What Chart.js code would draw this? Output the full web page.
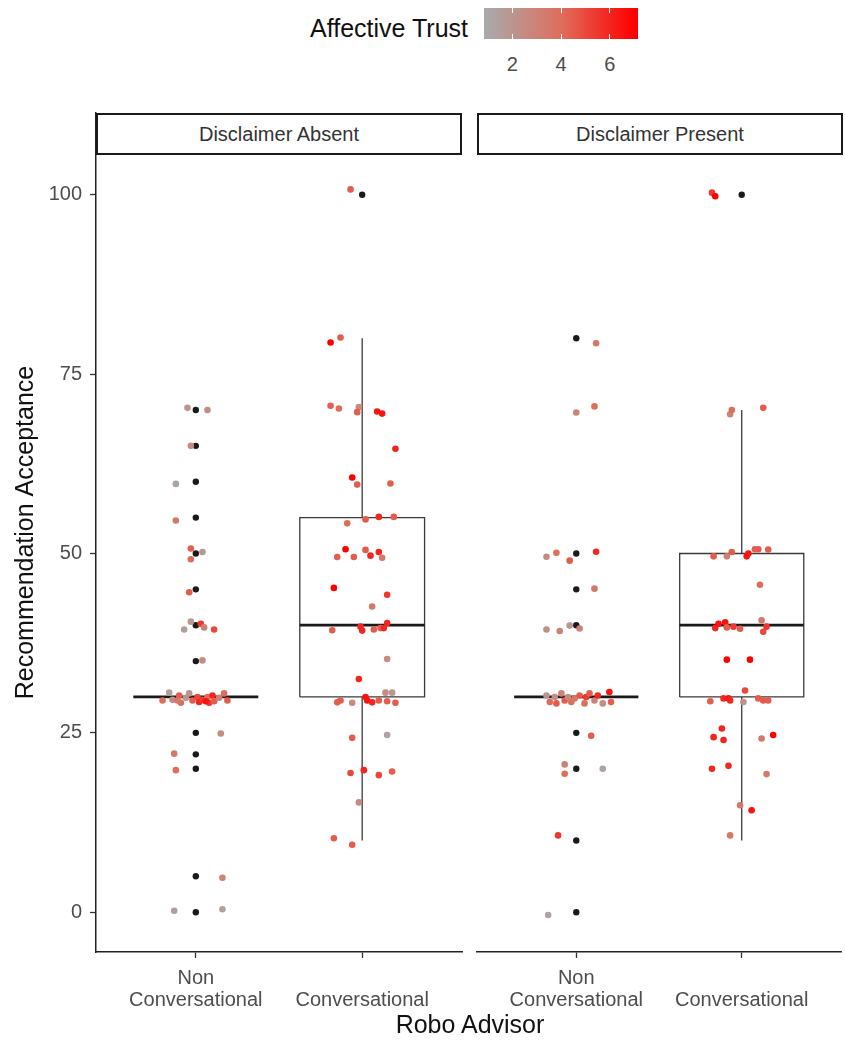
<!DOCTYPE html>
<html>
<head>
<meta charset="utf-8">
<script src="https://cdn.jsdelivr.net/npm/chart.js@4.4.1/dist/chart.umd.min.js"></script>
<style>
  body { margin: 0; background: #fff; font-family: "Liberation Sans", Arial, sans-serif; }
  #wrap { position: relative; width: 845px; height: 1044px; overflow: hidden; }
  canvas { position: absolute; }
  .strip { position: absolute; top: 113px; height: 42px; box-sizing: border-box; border: 2px solid #1a1a1a;
           background: #fff; text-align: center; line-height: 38px; font-size: 20px; color: #333; z-index: 2; }
  .txt { position: absolute; white-space: nowrap; }
</style>
</head>
<body>
<div id="wrap">
  <div class="txt" id="legendTitle" style="right:377px; top:13px; font-size:25px; line-height:30px; color:#111;">Affective Trust</div>
  <div id="colorbar" style="position:absolute; left:484px; top:8px; width:154px; height:31px;"></div>
  <canvas id="left" width="470" height="907" style="left:0; top:108px;"></canvas>
  <canvas id="right" width="375" height="907" style="left:470px; top:108px;"></canvas>
  <div class="strip" id="strip0" style="left:96px; width:366px;"></div>
  <div class="strip" id="strip1" style="left:477px; width:366px;"></div>
  <div class="txt" style="left:0; width:940px; text-align:center; top:1009px; font-size:25px; line-height:30px; color:#111;">Robo Advisor</div>
</div>
<script>
// facets and categories
const facets = ['Disclaimer Absent', 'Disclaimer Present'];
const advisorLabels = [['Non', 'Conversational'], ['', 'Conversational']];
const yTicks = [0, 25, 50, 75, 100];
const trustTicks = [2, 4, 6];
const trustRange = [1, 7];

// boxplot stats: [lower whisker, q1, median, q3, upper whisker] for Non / Conversational
const boxAbsent = [[30, 30, 30, 30, 30], [10, 30, 40, 55, 80]];
const boxPresent = [[30, 30, 30, 30, 30], [10, 30, 40, 50, 70]];

// boxplot outliers (black)
const outAbsentNon = [70, 65, 60, 55, 50, 45, 40, 35, 25, 22, 20, 5, 0];
const outAbsentConv = [100];
const outPresentNon = [80, 50, 45, 40, 25, 20, 10, 0];
const outPresentConv = [100];

// jittered responses: value, horizontal jitter (category units), affective trust
const absentNonY = [70.3, 70.0, 65.0, 59.7, 54.6, 50.7, 50.2, 49.2, 44.6, 40.5, 39.4, 40.2, 39.7, 39.4, 35.1,
  29.5, 30.6, 29.6, 30.2, 29.2, 29.9, 30.5, 29.5, 30.0, 29.3, 29.6, 30.0, 29.2, 30.2, 29.4, 29.9, 30.5, 29.5, 29.5, 29.4,
  24.9, 22.1, 19.8, 4.8, 0.2, 0.4];
const absentNonDx = [-0.05, 0.07, -0.03, -0.12, -0.12, -0.03, 0.04, -0.03, -0.04, -0.03, -0.07, 0.03, 0.05, 0.11, 0.04,
  -0.20, -0.16, -0.14, -0.10, -0.09, -0.06, -0.04, -0.02, 0.01, 0.02, 0.04, 0.07, 0.08, 0.10, 0.11, 0.14, 0.17, 0.19, -0.11, 0.06,
  0.15, -0.13, -0.12, 0.16, -0.13, 0.16];
const absentNonTrust = [2.0, 2.5, 2.5, 1.3, 3.5, 4.5, 2.0, 4.0, 4.5, 1.8, 1.5, 5.5, 3.0, 5.0, 2.5,
  4.0, 1.5, 2.5, 4.5, 4.0, 2.0, 2.0, 4.5, 5.0, 6.0, 5.5, 4.0, 5.5, 6.0, 4.5, 3.0, 4.0, 4.5, 3.5, 6.5,
  2.5, 3.5, 4.0, 3.0, 1.5, 1.5];

const absentConvY = [100.75, 79.4, 80.1, 70.6, 70.2, 70.4, 69.7, 69.8, 69.5, 64.6,
  60.6, 59.6, 59.75, 54.75, 55.1, 55.1, 54.2, 50.6, 49.5, 49.5,
  50.5, 49.7, 50.2, 49.4, 45.2, 44.25, 42.6, 39.3, 39.8, 39.25,
  39.4, 39.6, 39.6, 40.3, 35.3, 32.5, 29.25, 29.5, 29.2, 30.0,
  29.5, 29.25, 29.5, 30.6, 30.6, 29.4, 29.2, 24.3, 24.7, 19.4,
  19.8, 19.1, 19.6, 15.3, 10.3, 9.4];
const absentConvDx = [-0.07, -0.19, -0.13, -0.19, -0.14, -0.02, -0.03, 0.09, 0.12, 0.20,
  -0.06, -0.03, 0.17, 0.02, 0.10, 0.19, -0.09, -0.10, -0.15, -0.05,
  0.02, 0.05, 0.10, 0.12, -0.17, 0.15, 0.06, -0.18, -0.01, 0.00,
  0.07, 0.11, 0.13, 0.15, 0.15, -0.02, -0.15, -0.13, -0.06, 0.02,
  0.03, 0.06, 0.10, 0.14, 0.18, 0.15, 0.20, -0.06, 0.15, -0.07,
  0.01, 0.10, 0.18, -0.02, -0.17, -0.06];
const absentConvTrust = [4.5, 7, 4.5, 4.5, 4.0, 2.5, 4.5, 6.5, 6.5, 6.0,
  7, 4.5, 4.5, 4.5, 6.0, 4.5, 4.0, 7, 4.5, 4.5,
  4.5, 6.0, 6.0, 3.5, 7, 5.5, 3.5, 4.5, 6.0, 6.0,
  4.5, 4.5, 6.0, 6.0, 2.5, 6.0, 4.5, 4.5, 2.5, 6.5,
  6.5, 6.0, 4.5, 2.5, 2.0, 4.5, 4.5, 4.5, 1.3, 5.0,
  6.0, 5.0, 4.5, 2.5, 4.5, 4.5];

const presentNonY = [79.3, 69.65, 70.5, 49.55, 50.1, 49.0, 50.25, 45.1, 39.4, 39.2, 39.95, 39.55,
  30.2, 29.3, 30.0, 29.1, 30.5, 29.5, 30.0, 29.3, 29.8, 30.2, 29.1, 30.0, 30.5, 29.5, 30.2, 29.1, 30.7, 29.3,
  24.6, 20.6, 19.3, 20.0, 10.7, -0.4];
const presentNonDx = [0.12, 0.00, 0.11, -0.18, -0.12, -0.04, 0.12, 0.11, -0.18, -0.10, -0.04, 0.02,
  -0.18, -0.16, -0.13, -0.12, -0.09, -0.07, -0.05, -0.03, -0.01, 0.02, 0.05, 0.06, 0.08, 0.11, 0.13, 0.16, 0.20, 0.21,
  0.09, -0.07, -0.07, 0.16, -0.11, -0.17];
const presentNonTrust = [3.5, 3.0, 4.0, 2.5, 4.0, 4.5, 6.0, 3.5, 2.5, 3.0, 2.0, 3.0,
  2.0, 4.0, 2.5, 4.5, 3.0, 4.5, 2.5, 4.0, 3.5, 4.5, 4.0, 5.5, 4.5, 3.0, 6.0, 2.5, 6.5, 4.5,
  4.5, 3.0, 4.0, 1.3, 5.5, 1.3];

const presentConvY = [100.3, 99.8, 69.4, 70.0, 70.3, 49.6, 49.6, 50.2, 49.6, 50.0,
  50.6, 50.6, 50.55, 45.65, 39.6, 40.2, 40.4, 39.7, 39.8, 39.5,
  40.7, 39.1, 39.8, 35.2, 35.2, 30.9, 29.4, 29.8, 29.8, 29.5,
  29.3, 29.8, 29.5, 29.5, 25.6, 24.4, 24.0, 24.2, 24.7, 20.0,
  20.4, 19.25, 14.9, 14.2, 10.7];
const presentConvDx = [-0.18, -0.16, -0.07, -0.06, 0.13, -0.17, -0.09, -0.06, 0.03, 0.04,
  0.08, 0.10, 0.16, 0.11, -0.16, -0.14, -0.10, -0.09, -0.05, -0.01,
  0.12, 0.13, 0.15, -0.09, 0.05, 0.02, -0.19, -0.11, -0.08, -0.07,
  0.01, 0.10, 0.13, 0.16, -0.12, -0.17, -0.11, 0.12, 0.19, -0.18,
  -0.08, 0.15, -0.01, 0.06, -0.07];
const presentConvTrust = [5.5, 7, 3.0, 4.0, 4.5, 4.5, 3.0, 4.5, 6.5, 6.5,
  4.5, 4.5, 4.5, 4.0, 6.0, 6.5, 6.5, 4.5, 5.5, 4.5,
  3.5, 5.0, 5.5, 7, 7, 5.0, 4.5, 6.0, 6.5, 6.0,
  2.0, 4.5, 4.5, 4.5, 6.0, 6.0, 6.0, 3.5, 7, 6.0,
  6.0, 3.5, 3.5, 6.5, 3.5];

// colour scale (grey -> red), stops
const trustStops = [[1, [169, 169, 169]], [4, [222, 110, 92]], [7, [255, 0, 0]]];
function trustColor(t) {
  for (let i = 1; i < trustStops.length; i++) {
    const [t0, c0] = trustStops[i - 1], [t1, c1] = trustStops[i];
    if (t <= t1 || i == trustStops.length - 1) {
      const f = Math.min(1, Math.max(0, (t - t0) / (t1 - t0)));
      return 'rgb(' + c0.map((c, k) => Math.round(c + (c1[k] - c) * f)).join(',') + ')';
    }
  }
}

Chart.defaults.font.family = '"Liberation Sans", Arial, sans-serif';

const BOX_HALF = 0.375;
const seg = (pts, width, color, order) => ({
  data: pts, showLine: true, borderColor: color, borderWidth: width,
  pointRadius: 0, fill: false, tension: 0, order: order
});

function facetDatasets(box, groups) {
  const ds = [];
  box.forEach((b, i) => {
    const x = i + 1;
    ds.push(seg([{x: x - BOX_HALF, y: b[1]}, {x: x + BOX_HALF, y: b[1]}, {x: x + BOX_HALF, y: b[3]},
                 {x: x - BOX_HALF, y: b[3]}, {x: x - BOX_HALF, y: b[1]}], 1.3, '#3a3a3a', 4));
    ds.push(seg([{x: x, y: b[0]}, {x: x, y: b[1]}], 1.3, '#3a3a3a', 4));
    ds.push(seg([{x: x, y: b[3]}, {x: x, y: b[4]}], 1.3, '#3a3a3a', 4));
    ds.push(seg([{x: x - BOX_HALF, y: b[2]}, {x: x + BOX_HALF, y: b[2]}], 2.8, '#1a1a1a', 3));
  });
  groups.forEach((g, i) => {
    ds.push({ data: g.out.map(v => ({x: i + 1, y: v})), backgroundColor: '#1a1a1a',
              pointRadius: 3.2, borderWidth: 0, order: 2 });
    ds.push({ data: g.y.map((v, k) => ({x: i + 1 + g.dx[k], y: v})), backgroundColor: g.trust.map(trustColor),
              pointRadius: 3.3, borderWidth: 0, order: 1 });
  });
  return ds;
}

function makeChart(id, datasets, showY, padding) {
  return new Chart(document.getElementById(id), {
    type: 'scatter',
    data: { datasets: datasets },
    options: {
      responsive: false, animation: false, events: [],
      layout: { padding: padding },
      plugins: { legend: { display: false }, tooltip: { enabled: false } },
      scales: {
        x: {
          type: 'linear', min: 0.4, max: 2.6,
          afterBuildTicks: s => { s.ticks = [{value: 1}, {value: 2}]; },
          afterFit: s => { s.height = 63; s.paddingLeft = 0; s.paddingRight = 0; },
          ticks: { callback: (v, i) => advisorLabels[i], font: { size: 20, lineHeight: 1.1 }, color: '#4d4d4d',
                   padding: 9, maxRotation: 0, autoSkip: false },
          grid: { drawOnChartArea: false, tickLength: 6, tickColor: '#333', tickWidth: 1.3 },
          border: { color: '#222', width: 1.5 }
        },
        y: {
          display: showY, min: -5.55, max: 111.4,
          afterBuildTicks: s => { s.ticks = yTicks.map(v => ({value: v})); },
          afterFit: s => { s.width = showY ? 96 : 0; s.paddingTop = 0; s.paddingBottom = 0; },
          ticks: { font: { size: 20 }, color: '#4d4d4d', padding: 8 },
          grid: { drawOnChartArea: false, tickLength: 6, tickColor: '#333', tickWidth: 1.3 },
          border: { color: '#222', width: 1.5 },
          title: { display: true, text: 'Recommendation Acceptance', font: { size: 25 }, color: '#111',
                   padding: { top: 11, bottom: 0 } }
        }
      }
    }
  });
}

makeChart('left', facetDatasets(boxAbsent, [
  { y: absentNonY, dx: absentNonDx, trust: absentNonTrust, out: outAbsentNon },
  { y: absentConvY, dx: absentConvDx, trust: absentConvTrust, out: outAbsentConv }
]), true, { left: 0, right: 8, top: 5, bottom: 0 });

makeChart('right', facetDatasets(boxPresent, [
  { y: presentNonY, dx: presentNonDx, trust: presentNonTrust, out: outPresentNon },
  { y: presentConvY, dx: presentConvDx, trust: presentConvTrust, out: outPresentConv }
]), false, { left: 7, right: 2, top: 5, bottom: 0 });

// strip labels
facets.forEach((f, i) => { document.getElementById('strip' + i).textContent = f; });

// colour bar legend (ticks sit on bin centres of a 20-bin bar)
const bar = document.getElementById('colorbar');
const barW = 154, half = barW / 40;
const pos = v => half + (v - trustRange[0]) / (trustRange[1] - trustRange[0]) * (barW - 2 * half);
const stops = [];
for (let t = trustRange[0]; t <= trustRange[1] + 1e-9; t += 0.5) {
  stops.push(trustColor(t) + ' ' + (pos(t) / barW * 100).toFixed(1) + '%');
}
bar.style.background = 'linear-gradient(to right, ' + stops.join(', ') + ')';
trustTicks.forEach(v => {
  const x = pos(v);
  ['top:0', 'bottom:0'].forEach(side => {
    const m = document.createElement('div');
    m.style.cssText = 'position:absolute;' + side + ';left:' + (x - 0.5) + 'px;width:1px;height:5px;background:#fff;';
    bar.appendChild(m);
  });
  const lab = document.createElement('div');
  lab.className = 'txt';
  lab.textContent = v;
  lab.style.cssText += 'left:' + (484 + x - 20) + 'px;width:40px;text-align:center;top:52px;font-size:20px;line-height:24px;color:#4d4d4d;';
  document.getElementById('wrap').appendChild(lab);
});
</script>
</body>
</html>
